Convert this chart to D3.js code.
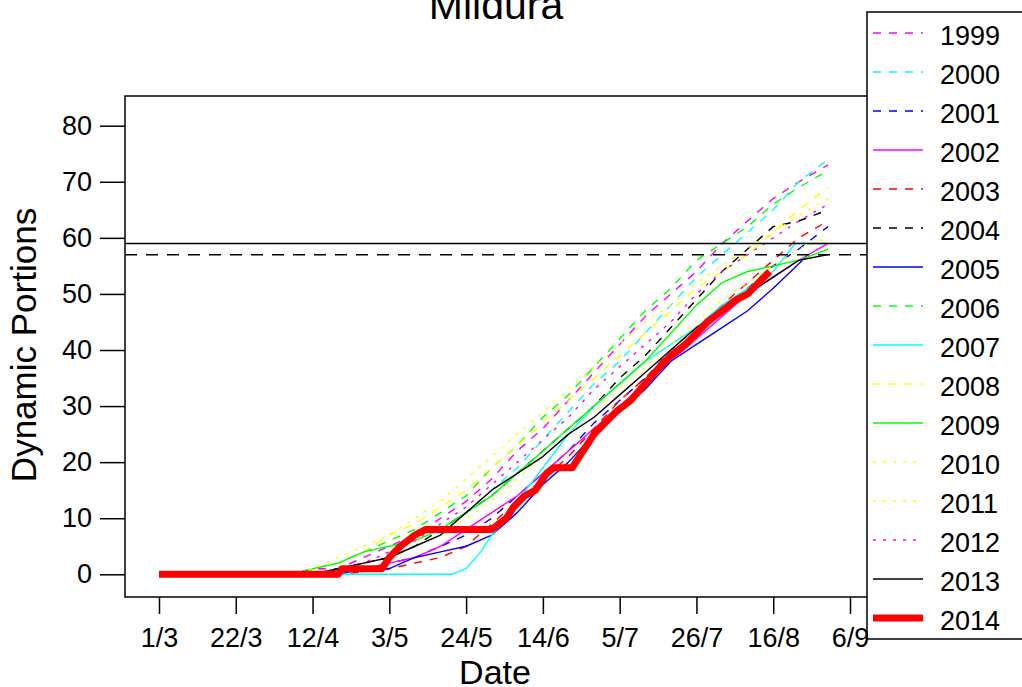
<!DOCTYPE html>
<html>
<head>
<meta charset="utf-8">
<script src="https://cdn.jsdelivr.net/npm/d3@7/dist/d3.min.js"></script>
<style>
  body { margin: 0; background: #fff; }
  text { font-family: "Liberation Sans", Arial, sans-serif; fill: #000; }
</style>
</head>
<body>
<script>
// Data: [day since 1 March, cumulative portions]
var years = ["1999","2000","2001","2002","2003","2004","2005","2006","2007","2008","2009","2010","2011","2012","2013","2014"];
var colors = ["#ff00ff","#00ffff","#0000ff","#ff00ff","#ff0000","#000000","#0000ff","#00ff00","#00ffff","#ffff00","#00ff00","#ffff00","#ffff00","#ff00ff","#000000","#ff0000"];
var styles = ["dash","dash","dash","solid","dash","dash","solid","dash","solid","dash","solid","dot","dot","dot","solid","thick"];

var tickDays = [0, 21, 42, 63, 84, 105, 126, 147, 168, 189];
var tickLabels = ["1/3", "22/3", "12/4", "3/5", "24/5", "14/6", "5/7", "26/7", "16/8", "6/9"];
var yTicks = [0, 10, 20, 30, 40, 50, 60, 70, 80];
var refSolid = 59, refDashed = 57;

var s1999 = [[0,0],[38,0],[42,1],[49,1],[56,3],[63,5],[70,7],[77,10],[84,13],[91,17],[98,22],[105,26],[112,31],[119,36],[126,41],[133,46],[140,50],[147,54],[154,59],[161,63],[168,67],[175,70],[183,73]];
var s2000 = [[0,0],[42,0],[49,1],[56,2],[63,3],[70,5],[77,8],[84,11],[91,15],[98,19],[105,24],[112,29],[119,34],[126,38],[133,43],[140,48],[147,53],[154,57],[161,61],[168,65],[175,70],[183,74]];
var s2001 = [[0,0],[45,0],[49,1],[56,1],[63,2],[70,3],[77,5],[84,7],[91,10],[98,14],[105,18],[112,22],[119,27],[126,31],[133,35],[140,39],[147,43],[154,47],[161,51],[168,55],[175,58],[183,62]];
var s2002 = [[0,0],[45,0],[49,1],[56,1],[63,2],[70,3],[77,5],[84,8],[91,11],[98,14],[105,18],[112,22],[119,26],[126,30],[133,34],[140,38],[147,42],[154,46],[161,50],[168,53],[175,56],[183,59]];
var s2003 = [[0,0],[50,0],[63,1],[70,2],[77,3],[84,5],[91,9],[98,13],[105,17],[112,21],[119,26],[126,31],[133,35],[140,40],[147,44],[154,48],[161,52],[168,56],[175,60],[183,63]];
var s2004 = [[0,0],[42,0],[49,1],[56,2],[63,3],[70,5],[77,8],[84,11],[91,14],[98,18],[105,22],[112,26],[119,30],[126,35],[133,39],[140,44],[147,49],[154,54],[161,58],[168,62],[175,63],[183,65]];
var s2005 = [[0,0],[49,0],[56,1],[63,1],[70,3],[77,4],[84,5],[91,7],[98,11],[105,16],[112,20],[119,25],[126,29],[133,33],[140,38],[147,41],[154,44],[161,47],[168,51],[176,56]];
var s2006 = [[0,0],[35,0],[42,1],[49,2],[56,4],[63,6],[70,8],[77,11],[84,14],[91,19],[98,23],[105,28],[112,32],[119,37],[126,42],[133,47],[140,51],[147,56],[154,59],[161,62],[168,66],[175,69],[183,72]];
var s2007 = [[0,0],[80,0],[84,1],[88,4],[91,7],[95,10],[98,13],[105,19],[112,25],[119,30],[126,34],[133,38],[140,41],[147,44],[154,48],[161,51],[168,54],[174,59],[183,59]];
var s2008 = [[0,0],[40,0],[42,1],[49,2],[56,4],[63,7],[70,9],[77,12],[84,15],[91,19],[98,23],[105,27],[112,31],[119,35],[126,39],[133,43],[140,47],[147,51],[154,54],[161,57],[168,61],[175,65],[183,69]];
var s2009 = [[0,0],[40,0],[42,1],[49,2],[56,4],[63,5],[70,6],[77,8],[84,11],[91,14],[98,18],[105,22],[112,26],[119,30],[126,34],[133,38],[140,43],[147,48],[154,52],[161,54],[168,55],[175,56],[183,58]];
var s2010 = [[0,0],[38,0],[42,1],[49,3],[56,5],[63,7],[70,10],[77,13],[84,17],[91,21],[98,25],[105,29],[112,33],[119,37],[126,41],[133,45],[140,48],[147,52],[154,55],[161,58],[168,61],[175,64],[183,67]];
var s2011 = [[0,0],[42,0],[49,1],[56,2],[63,3],[70,5],[77,7],[84,10],[91,13],[98,17],[105,21],[112,25],[119,29],[126,33],[133,37],[140,41],[147,45],[154,49],[161,52],[168,55],[175,58],[183,60]];
var s2012 = [[0,0],[42,0],[49,1],[56,2],[63,4],[70,6],[77,9],[84,12],[91,16],[98,20],[105,24],[112,28],[119,33],[126,37],[133,41],[140,45],[147,50],[154,54],[161,57],[168,60],[175,63],[183,66]];
var s2013 = [[0,0],[42,0],[49,1],[56,2],[63,3],[70,5],[77,7],[84,11],[91,15],[98,18],[105,21],[112,25],[119,28],[126,32],[133,36],[140,40],[147,44],[154,47],[161,50],[168,53],[175,56],[183,57]];
var s2014 = [[0,0],[49,0],[50,1],[61,1],[63,3],[66,5],[68,6],[70,7],[73,8],[91,8],[93,9],[95,10],[97,12],[100,14],[103,15],[106,18],[108,19],[113,19],[116,22],[119,25],[122,27],[125,29],[129,31],[133,34],[137,37],[140,39],[144,41],[147,43],[150,45],[154,47],[158,49],[161,50],[164,52],[167,54]];

var seriesData = [s1999, s2000, s2001, s2002, s2003, s2004, s2005, s2006, s2007, s2008, s2009, s2010, s2011, s2012, s2013, s2014];

var width = 1022, height = 687;
var plot = { left: 125, right: 870, top: 96, bottom: 597 };

var svg = d3.select("body").append("svg")
    .attr("width", width)
    .attr("height", height);

var x = d3.scaleLinear().domain([0, 189]).range([159, 850]);
var y = d3.scaleLinear().domain([0, 80]).range([574.3, 125.7]);

function dashFor(s) {
    if (s == "dash") return "8,8";
    if (s == "dot") return "3,7";
    return null;
}

var line = d3.line()
    .x(function (d) { return x(d[0]); })
    .y(function (d) { return y(d[1]); });

// series
svg.append("g")
    .selectAll("path")
    .data(seriesData)
    .enter().append("path")
    .attr("d", line)
    .attr("fill", "none")
    .attr("stroke", function (d, i) { return colors[i]; })
    .attr("stroke-width", function (d, i) { return styles[i] == "thick" ? 7 : 1.4; })
    .attr("stroke-dasharray", function (d, i) { return dashFor(styles[i]); })
    .attr("stroke-linejoin", "round");

// reference lines
svg.append("line")
    .attr("x1", plot.left).attr("x2", plot.right)
    .attr("y1", y(refSolid)).attr("y2", y(refSolid))
    .attr("stroke", "#000").attr("stroke-width", 1.5);
svg.append("line")
    .attr("x1", plot.left).attr("x2", plot.right)
    .attr("y1", y(refDashed)).attr("y2", y(refDashed))
    .attr("stroke", "#000").attr("stroke-width", 1.5)
    .attr("stroke-dasharray", "12,9");

// box
svg.append("rect")
    .attr("x", plot.left).attr("y", plot.top)
    .attr("width", plot.right - plot.left)
    .attr("height", plot.bottom - plot.top)
    .attr("fill", "none").attr("stroke", "#000").attr("stroke-width", 1.5);

// legend
var lg = svg.append("g");
lg.append("rect")
    .attr("x", 867).attr("y", 12)
    .attr("width", 200).attr("height", 627)
    .attr("fill", "#fff").attr("stroke", "#000").attr("stroke-width", 1.5);
var items = lg.selectAll("g.item")
    .data(years)
    .enter().append("g")
    .attr("class", "item")
    .attr("transform", function (d, i) { return "translate(0," + (33 + 39 * i) + ")"; });
items.append("line")
    .attr("x1", 873).attr("x2", 923)
    .attr("stroke", function (d, i) { return colors[i]; })
    .attr("stroke-width", function (d, i) { return styles[i] == "thick" ? 7 : 1.4; })
    .attr("stroke-dasharray", function (d, i) { return dashFor(styles[i]); });
items.append("text")
    .attr("x", 940).attr("y", 11.5)
    .attr("font-size", 27)
    .text(function (d) { return d; });

// x axis
var xAxis = d3.axisBottom(x)
    .tickValues(tickDays)
    .tickSize(17)
    .tickPadding(14)
    .tickFormat(function (d, i) { return tickLabels[i]; });
var gx = svg.append("g")
    .attr("transform", "translate(0," + plot.bottom + ")")
    .call(xAxis);
gx.select(".domain").remove();
gx.selectAll("line").attr("stroke", "#000").attr("stroke-width", 1.5);
gx.selectAll("text").attr("font-size", 27).attr("font-family", null).attr("fill", "#000");

// y axis
var yAxis = d3.axisLeft(y)
    .tickValues(yTicks)
    .tickSize(25)
    .tickPadding(8);
var gy = svg.append("g")
    .attr("transform", "translate(" + plot.left + ",0)")
    .call(yAxis);
gy.select(".domain").remove();
gy.selectAll("line").attr("stroke", "#000").attr("stroke-width", 1.5);
gy.selectAll("text").attr("font-size", 27).attr("font-family", null).attr("fill", "#000");

// titles
svg.append("text")
    .attr("x", 496).attr("y", 19)
    .attr("text-anchor", "middle")
    .attr("font-size", 41)
    .text("Mildura");
svg.append("text")
    .attr("x", 495).attr("y", 684)
    .attr("text-anchor", "middle")
    .attr("font-size", 34)
    .text("Date");
svg.append("text")
    .attr("transform", "translate(36,345) rotate(-90)")
    .attr("text-anchor", "middle")
    .attr("font-size", 35)
    .text("Dynamic Portions");
</script>
</body>
</html>
